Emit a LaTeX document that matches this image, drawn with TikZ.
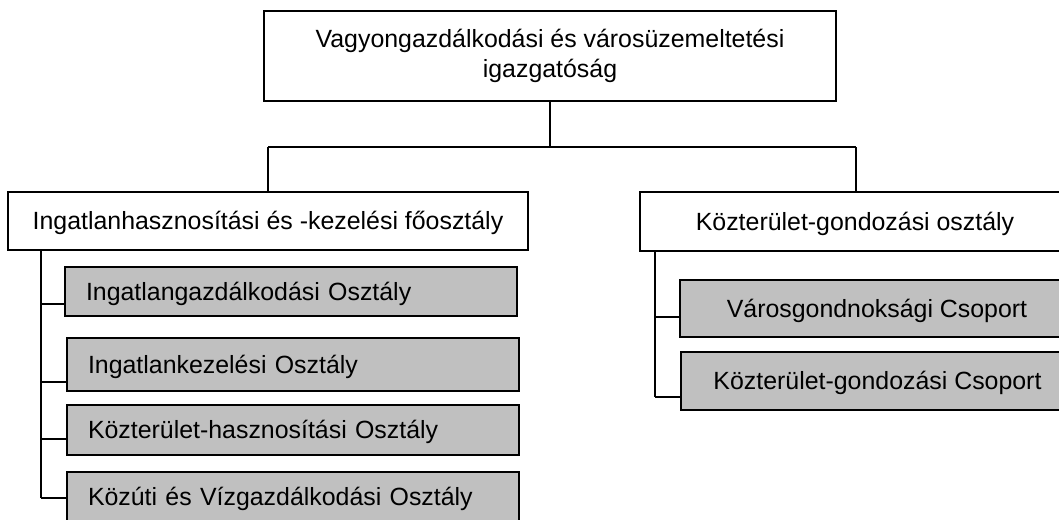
\documentclass[tikz,border=0pt]{standalone}
\usepackage{fontspec}
\setmainfont{Liberation Sans}
\definecolor{boxgray}{RGB}{192,192,192}
\begin{document}
\begin{tikzpicture}[x=1pt,y=-1pt,
  every node/.style={font=\fontsize{24.9}{30}\selectfont},
  box/.style={draw=black,line width=1.1pt,inner sep=0pt,text height=17.8pt,text depth=0pt},
  whitebox/.style={box,fill=white},
  graybox/.style={box,fill=boxgray},
  conn/.style={draw=black,line width=1.3pt}]
\useasboundingbox (0,0) rectangle (1059,519);
% top
\node[draw=black,line width=1.1pt,fill=white,minimum width=572pt,minimum height=90pt,align=center,inner sep=0pt] (top) at (550,56) {Vagyongazdálkodási és városüzemeltetési\\igazgatóság};
% second level
\node[whitebox,minimum width=520pt,minimum height=58pt] (L) at (268,221) {Ingatlanhasznosítási és -kezelési főosztály};
\node[whitebox,minimum width=430pt,minimum height=59pt] (R) at (855,221.5) {Közterület-gondozási osztály};
% left sub-boxes
\node[graybox,minimum height=49pt,text width=410pt,inner xsep=21pt,align=left] (L1) at (291,291.5) {Ingatlangazdálkodási Osztály};
\node[graybox,minimum height=53pt,text width=410pt,inner xsep=21pt,align=left] (L2) at (293,364.5) {Ingatlankezelési Osztály};
\node[graybox,minimum height=50pt,text width=410pt,inner xsep=21pt,align=left] (L3) at (293,430) {Közterület-hasznosítási Osztály};
\node[graybox,minimum height=50pt,text width=410pt,inner xsep=21pt,align=left] (L4) at (293,497) {Közúti és Vízgazdálkodási Osztály};
% right sub-boxes
\node[graybox,minimum width=394pt,minimum height=57pt] (R1) at (877,308.5) {Városgondnoksági Csoport};
\node[graybox,minimum width=393pt,minimum height=58pt] (R2) at (877.5,381) {Közterület-gondozási Csoport};
% connectors top
\coordinate (jl) at (268,147);
\coordinate (jr) at (856,147);
\draw[conn] (top.south) -- (top.south |- jl);
\draw[conn] (jl) -- (jr);
\draw[conn] (jl) -- (jl |- L.north);
\draw[conn] (jr) -- (jr |- R.north);
% left tree
\coordinate (lv) at (41,250);
\coordinate (lb) at (41,498);
\draw[conn] (lv) -- (lb);
\draw[conn] (lv |- 0,304) -- ([yshift=-12.5pt]L1.west);
\draw[conn] (lv |- 0,382) -- ([yshift=-17.5pt]L2.west);
\draw[conn] (lv |- 0,439) -- ([yshift=-9pt]L3.west);
\draw[conn] (lb) -- ([yshift=-1pt]L4.west);
% right tree
\coordinate (rv) at (655,251);
\coordinate (rb) at (655,397);
\draw[conn] (rv) -- (rb);
\draw[conn] (rv |- 0,317) -- ([yshift=-8.5pt]R1.west);
\draw[conn] (rb) -- ([yshift=-16pt]R2.west);
\end{tikzpicture}
\end{document}
